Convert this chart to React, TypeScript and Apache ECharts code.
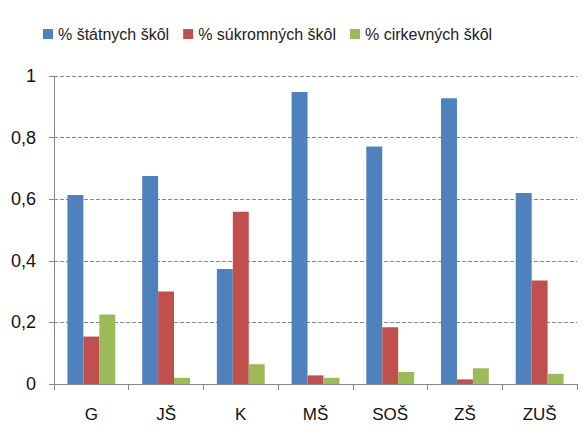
import React, { useEffect, useRef } from "react";
import * as echarts from "echarts";

const categories = ["G", "JŠ", "K", "MŠ", "SOŠ", "ZŠ", "ZUŠ"];
const seriesNames = ["% štátnych škôl", "% súkromných škôl", "% cirkevných škôl"];
const statne = [0.614, 0.675, 0.373, 0.948, 0.771, 0.928, 0.62];
const sukromne = [0.154, 0.3, 0.559, 0.028, 0.184, 0.015, 0.336];
const cirkevne = [0.226, 0.02, 0.064, 0.02, 0.039, 0.051, 0.033];
const colors = ["#4F81BD", "#C0504D", "#9BBB59"];

export default function App() {
  const ref = useRef<HTMLDivElement>(null);
  useEffect(() => {
    if (!ref.current) return;
    const chart = echarts.init(ref.current, null, { renderer: "svg" });
    const font = "'Liberation Sans', Arial, sans-serif";
    const values = [statne, sukromne, cirkevne];
    chart.setOption({
      animation: false,
      color: colors,
      textStyle: { fontFamily: font },
      legend: {
        top: 21,
        left: 38,
        itemWidth: 10,
        itemHeight: 10,
        itemGap: 14,
        icon: "rect",
        textStyle: { fontSize: 16, color: "#222", fontFamily: font },
        data: seriesNames,
      },
      grid: { left: 54, right: 8, top: 76, bottom: 52, containLabel: false },
      xAxis: {
        type: "category",
        data: categories,
        axisLine: { lineStyle: { color: "#888", width: 1 } },
        axisTick: { show: true, length: 6, lineStyle: { color: "#888" } },
        axisLabel: { fontSize: 17, color: "#111", margin: 22, fontFamily: font },
      },
      yAxis: {
        type: "value",
        min: 0,
        max: 1,
        interval: 0.2,
        axisLine: { show: true, lineStyle: { color: "#888", width: 1 } },
        axisTick: { show: true, length: 5, lineStyle: { color: "#888" } },
        splitLine: { lineStyle: { color: "#888", type: [4, 2], width: 1 } },
        axisLabel: {
          fontSize: 18,
          color: "#111",
          margin: 18,
          fontFamily: font,
          formatter: (v: number) => String(Math.round(v * 10) / 10).replace(".", ","),
        },
      },
      series: seriesNames.map((name, i) => ({
        name,
        type: "bar",
        data: values[i],
        barGap: "0%",
        barCategoryGap: "36%",
        itemStyle: { color: colors[i] },
      })),
    });
    return () => chart.dispose();
  }, []);
  return <div ref={ref} style={{ width: 585, height: 436, position: "absolute", left: 0, top: 0 }} />;
}
